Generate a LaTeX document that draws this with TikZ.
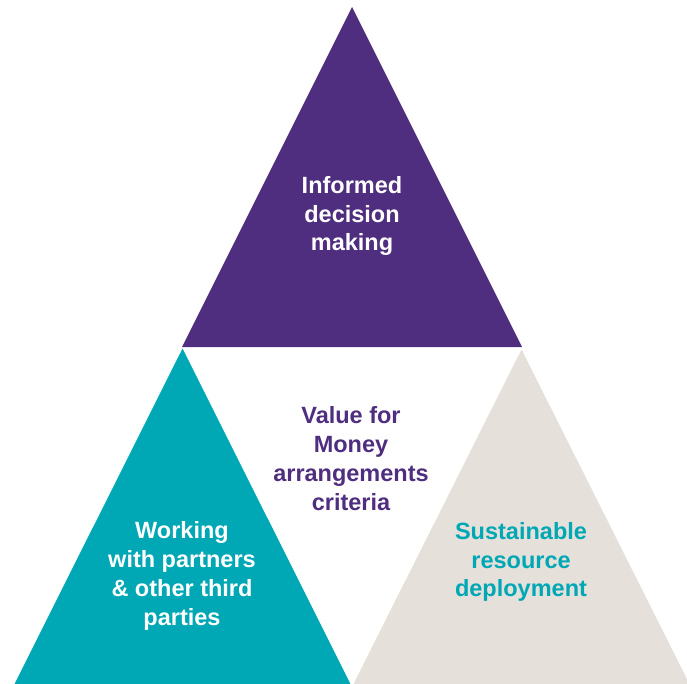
\documentclass[tikz,border=0pt]{standalone}
\usepackage{fontspec}
\setmainfont{Liberation Sans}
\definecolor{gtpurple}{HTML}{4F2D7F}
\definecolor{gtteal}{HTML}{00A7B5}
\definecolor{gtbeige}{HTML}{E5E0DA}
\begin{document}
\begin{tikzpicture}[x=1pt,y=-1pt,
  lbl/.style={align=center,font=\bfseries\fontsize{23.5}{28.8}\selectfont,inner sep=0pt}]
\useasboundingbox (0,0) rectangle (687,683);
% top triangle
\coordinate (tA) at (352,7);
\coordinate (tL) at (182,347);
\coordinate (tR) at (522,347);
\fill[gtpurple] (tA) -- (tR) -- (tL) -- cycle;
% bottom left triangle
\coordinate (lA) at (182.5,348.5);
\coordinate (lL) at (14,685);
\coordinate (lR) at (351,685);
\fill[gtteal] (lA) -- (lR) -- (lL) -- cycle;
% bottom right triangle
\coordinate (rA) at (521.5,349.5);
\coordinate (rL) at (353,685);
\coordinate (rR) at (690,685);
\fill[gtbeige] (rA) -- (rR) -- (rL) -- cycle;
% labels
\node[lbl,text=white] (top) at (352,216) {Informed\\decision\\making};
\node[lbl,text=gtpurple] (mid) at (351,458.5) {Value for\\Money\\arrangements\\criteria};
\node[lbl,text=white] (left) at (182,576) {Working\\with partners\\\& other third\\parties};
\node[lbl,text=gtteal] (right) at (521,562) {Sustainable\\resource\\deployment};
\end{tikzpicture}
\end{document}
